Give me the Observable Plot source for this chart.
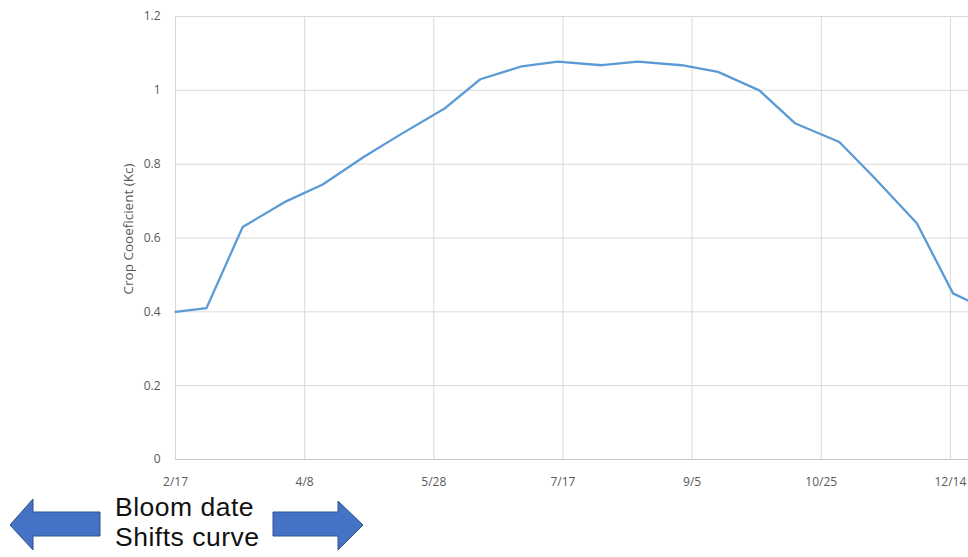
<!DOCTYPE html>
<html>
<head>
<meta charset="utf-8">
<script src="https://cdn.jsdelivr.net/npm/d3@7"></script>
<script src="https://cdn.jsdelivr.net/npm/@observablehq/plot@0.6"></script>
<style>
  html, body { margin: 0; padding: 0; background: #fff; }
  #wrap { position: relative; width: 968px; height: 557px; overflow: hidden; font-family: "Open Sans", sans-serif; }
  #wrap > svg { display: block; }
  #notes { position: absolute; left: 0; top: 0; pointer-events: none; }
</style>
</head>
<body>
<div id="wrap"></div>
<script>
// ---- data ----
const dates = [
  "2021-02-17", "2021-03-01", "2021-03-15", "2021-04-01", "2021-04-15",
  "2021-05-01", "2021-05-15", "2021-06-01", "2021-06-15", "2021-07-01",
  "2021-07-15", "2021-08-01", "2021-08-15", "2021-09-01", "2021-09-15",
  "2021-10-01", "2021-10-15", "2021-11-01", "2021-11-15", "2021-12-01",
  "2021-12-15", "2021-12-21"
];
const kcValues = [
  0.40, 0.41, 0.63, 0.70, 0.745,
  0.82, 0.88, 0.95, 1.03, 1.065,
  1.078, 1.068, 1.078, 1.068, 1.05,
  1.00, 0.91, 0.86, 0.76, 0.64,
  0.45, 0.43
];
const xTickDates = ["2021-02-17", "2021-04-08", "2021-05-28", "2021-07-17", "2021-09-05", "2021-10-25", "2021-12-14"];
const xTickLabels = ["2/17", "4/8", "5/28", "7/17", "9/5", "10/25", "12/14"];
const yTicks = [0, 0.2, 0.4, 0.6, 0.8, 1, 1.2];
const xDomain = ["2021-02-17", "2021-12-21"];
const yDomain = [0, 1.2];
const yLabel = "Crop Cooeficient (Kc)";
const noteLines = ["Bloom date", "Shifts curve"];

// ---- build ----
const parse = d3.utcParse("%Y-%m-%d");
const data = dates.map((d, i) => ({ date: parse(d), kc: kcValues[i] }));
const xTicks = xTickDates.map(parse);
const labelByTime = new Map(xTicks.map((d, i) => [+d, xTickLabels[i]]));

const chart = Plot.plot({
  width: 968,
  height: 496,
  marginLeft: 175,
  marginRight: 0,
  marginTop: 16,
  marginBottom: 37,
  style: { fontFamily: "Open Sans, sans-serif", fontSize: "12px", color: "#595959", background: "transparent", overflow: "visible" },
  x: { type: "utc", domain: xDomain.map(parse) },
  y: { domain: yDomain },
  marks: [
    Plot.gridY(yTicks, { stroke: "#d9d9d9", strokeOpacity: 1, strokeWidth: 1 }),
    Plot.gridX(xTicks, { stroke: "#d9d9d9", strokeOpacity: 1, strokeWidth: 1 }),
    Plot.ruleY([0], { stroke: "#c8c8c8", strokeWidth: 1 }),
    Plot.axisY(yTicks, { tickSize: 0, tickPadding: 15, label: null, fill: "#595959", fontSize: 12, tickFormat: d => String(d) }),
    Plot.axisX(xTicks, { tickSize: 0, tickPadding: 18, label: null, fill: "#595959", fontSize: 12, tickFormat: d => labelByTime.get(+d) }),
    Plot.text([yLabel], { text: d => d, frameAnchor: "left", dx: -47, dy: -9, rotate: -90, textAnchor: "middle", fill: "#595959", fontSize: 13.5 }),
    Plot.line(data, { x: "date", y: "kc", stroke: "#5b9bd5", strokeWidth: 2.3, strokeLinejoin: "round" })
  ]
});
document.getElementById("wrap").appendChild(chart);

// ---- annotation below the chart: arrows and text ----
const notes = d3.select("#wrap").append("svg")
  .attr("id", "notes")
  .attr("width", 968).attr("height", 557);
const arrowStyle = sel => sel.attr("fill", "#4472c4").attr("stroke", "#2f528f").attr("stroke-width", 1);
notes.append("polygon")
  .attr("points", "10,525 33,499 33,512 100,512 100,536 33,536 33,550")
  .call(arrowStyle);
notes.append("polygon")
  .attr("points", "363,525 338,501 338,512 273,512 273,536 338,536 338,550")
  .call(arrowStyle);
notes.selectAll("text.note").data(noteLines).join("text")
  .attr("class", "note")
  .attr("x", 115)
  .attr("y", (d, i) => 516 + i * 30)
  .attr("font-family", "Liberation Sans, Arial, sans-serif")
  .attr("font-size", 26.5)
  .attr("letter-spacing", 0.5)
  .attr("fill", "#111")
  .text(d => d);
</script>
</body>
</html>
